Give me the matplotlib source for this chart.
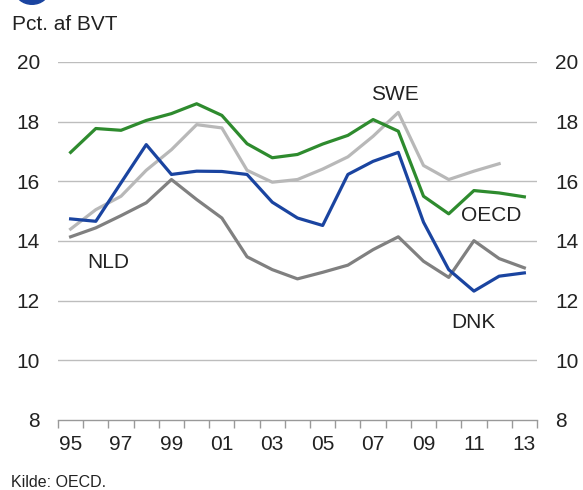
import matplotlib.pyplot as plt
from matplotlib.patches import Circle
import numpy as np

plt.rcParams['font.family'] = ['Liberation Sans', 'DejaVu Sans']

aar = ['95', '96', '97', '98', '99', '00', '01', '02', '03', '04',
       '05', '06', '07', '08', '09', '10', '11', '12', '13']

oecd = [16.97, 17.77, 17.71, 18.04, 18.27, 18.60, 18.21, 17.26, 16.79, 16.90,
        17.25, 17.54, 18.07, 17.68, 15.50, 14.91, 15.69, 15.61, 15.48]
swe = [14.40, 15.05, 15.50, 16.37, 17.06, 17.90, 17.79, 16.37, 15.97, 16.06,
       16.41, 16.82, 17.51, 18.31, 16.53, 16.06, 16.34, 16.59, None]
dnk = [14.74, 14.66, 15.95, 17.23, 16.23, 16.34, 16.33, 16.23, 15.30, 14.77,
       14.52, 16.23, 16.67, 16.97, 14.63, 13.04, 12.32, 12.82, 12.93]
nld = [14.14, 14.44, 14.85, 15.28, 16.06, 15.39, 14.77, 13.47, 13.04, 12.73,
       12.95, 13.19, 13.71, 14.14, 13.32, 12.78, 14.01, 13.41, 13.10]

y_ticks = [8, 10, 12, 14, 16, 18, 20]

fig = plt.figure(figsize=(5.83, 4.9), dpi=100)
ax = fig.add_axes([0.0995, 0.1429, 0.8215, 0.7306])

x = np.arange(len(aar))
swe_arr = np.array([np.nan if v is None else v for v in swe])

ax.plot(x, nld, color='#808080', lw=2.3, zorder=3)
ax.plot(x, swe_arr, color='#b8b8b8', lw=2.3, zorder=3)
ax.plot(x, oecd, color='#2e8b2e', lw=2.3, zorder=4)
ax.plot(x, dnk, color='#1a44a0', lw=2.3, zorder=5)

ax.set_xlim(-0.5, len(aar) - 0.5)
ax.set_ylim(8, 20)
ax.set_yticks(y_ticks)
for v in y_ticks[1:]:
    ax.axhline(v, color='#bdbdbd', lw=1, zorder=1)

ax.set_xticks(x[::2])
ax.set_xticklabels(aar[::2])
ax.set_xticks(np.arange(-0.5, len(aar), 1), minor=True)
ax.tick_params(axis='x', which='major', length=0, pad=11, labelsize=15, colors='#222222')
ax.tick_params(axis='x', which='minor', length=6, color='#999999', width=1)
ax.tick_params(axis='y', length=0, labelsize=15, colors='#222222', pad=13,
               labelleft=True, labelright=True)

for s in ['top', 'left', 'right']:
    ax.spines[s].set_visible(False)
ax.spines['bottom'].set_color('#999999')
ax.spines['bottom'].set_linewidth(1)

ax.text(12.85, 18.9, 'SWE', fontsize=15, color='#222222', ha='center', va='center')
ax.text(16.68, 14.87, 'OECD', fontsize=15, color='#222222', ha='center', va='center')
ax.text(1.48, 13.28, 'NLD', fontsize=15, color='#222222', ha='center', va='center')
ax.text(15.99, 11.28, 'DNK', fontsize=15, color='#222222', ha='center', va='center')

fig.text(12 / 583, 1 - 24 / 490, 'Pct. af BVT', fontsize=15, color='#222222',
         ha='left', va='center')
fig.text(11 / 583, 1 - 482 / 490, 'Kilde: OECD.', fontsize=11.5, color='#222222',
         ha='left', va='center')

# afskaaret cirkel fra overskriften
fig.patches.append(Circle((32 / 583, 1 + 10 / 490), 17 / 583, transform=fig.transFigure,
                          color='#1a44a0', clip_on=False))

fig.savefig('out.png', dpi=100)
